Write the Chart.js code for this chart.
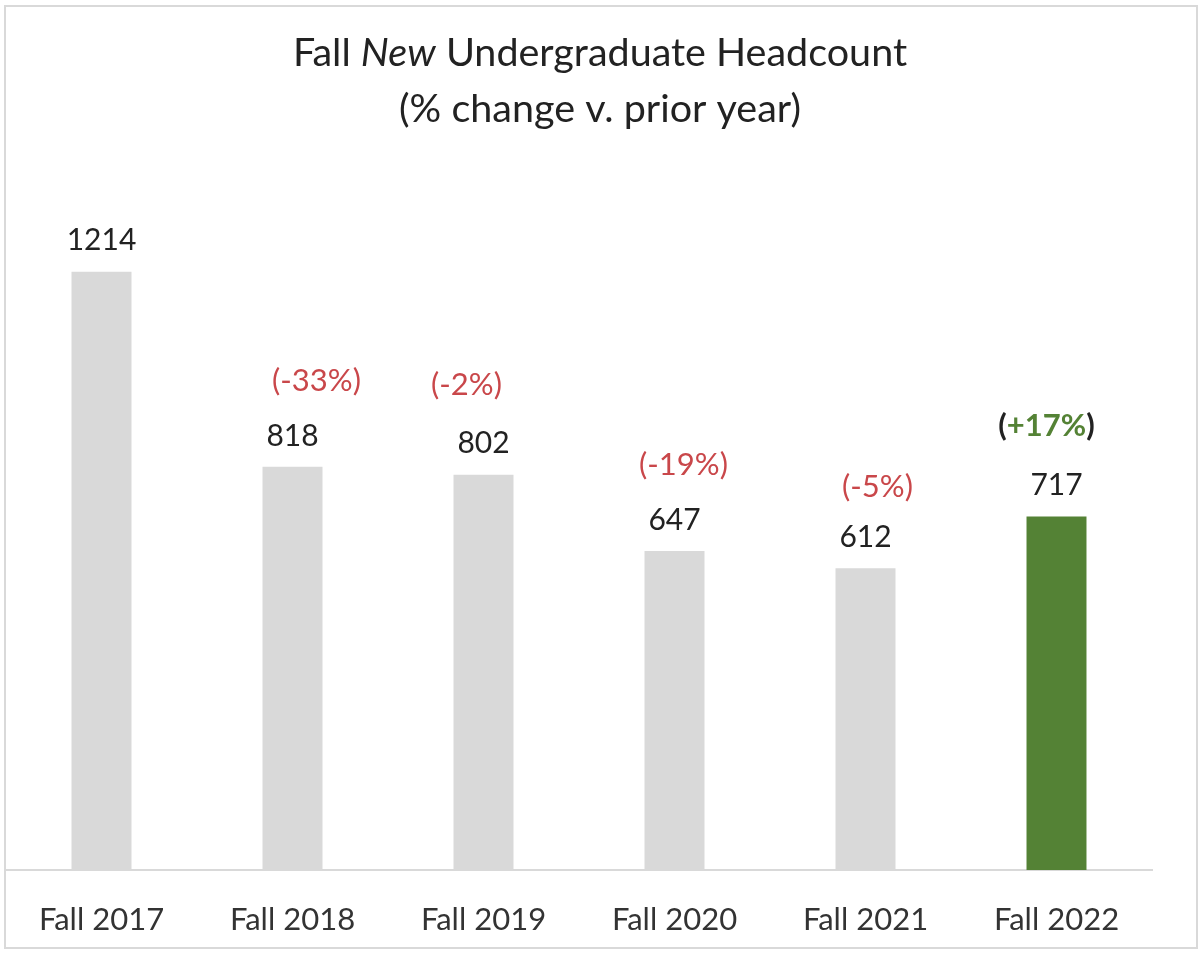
<!DOCTYPE html>
<html>
<head>
<meta charset="utf-8">
<script src="https://cdn.jsdelivr.net/npm/chart.js@4"></script>
<style>
html,body{margin:0;padding:0;background:#fff}
#wrap{position:relative;width:1200px;height:954px}
</style>
</head>
<body>
<div id="wrap"><canvas id="c" width="1200" height="954"></canvas></div>
<script>
/* ===== DATA ===== */
const years=['Fall 2017','Fall 2018','Fall 2019','Fall 2020','Fall 2021','Fall 2022'];
const headcount=[1214,818,802,647,612,717];
const pctChange=['','-33%','-2%','-19%','-5%','+17%'];

/* label nudges (px) - the original has them placed by hand */
const pctNudge=[[0,0],[24,0],[-17,-4],[9,0],[12,5],[-10,-5]];

const FONT='Lato, "Open Sans", sans-serif';
const GRAY='#d9d9d9',GREEN='#548235',RED='#c9474a';
const barColors=years.map((_,i)=>i===years.length-1?GREEN:GRAY);

// frame + two-line title with italic "New"
const titlePlugin={
  id:'titleFrame',
  beforeDraw(chart){
    const ctx=chart.ctx;
    ctx.save();
    ctx.strokeStyle='#d9d9d9';ctx.lineWidth=2;
    ctx.strokeRect(5,6,1192,942);
    ctx.fillStyle='#222';ctx.textBaseline='middle';
    const parts=[['Fall ','normal'],['New','italic'],[' Undergraduate Headcount','normal']];
    const f=st=>`${st} 39.5px ${FONT}`;
    let w=0;parts.forEach(p=>{ctx.font=f(p[1]);w+=ctx.measureText(p[0]).width;});
    let x=600-w/2;
    ctx.textAlign='left';
    parts.forEach(p=>{ctx.font=f(p[1]);ctx.fillText(p[0],x,53);x+=ctx.measureText(p[0]).width;});
    ctx.font=f('normal');ctx.textAlign='center';
    ctx.fillText('(% change v. prior year)',600,109);
    ctx.restore();
  }
};

// value labels + % change labels above each bar
const labelPlugin={
  id:'barLabels',
  afterDatasetsDraw(chart){
    const ctx=chart.ctx,meta=chart.getDatasetMeta(0);
    ctx.save();
    ctx.textBaseline='middle';ctx.textAlign='center';
    meta.data.forEach((bar,i)=>{
      ctx.font=`30px ${FONT}`;ctx.fillStyle='#222';
      const vy=bar.y-31;
      ctx.fillText(String(headcount[i]),bar.x,vy);
      const p=pctChange[i];
      if(!p)return;
      const px=bar.x+pctNudge[i][0],py=vy-55+pctNudge[i][1];
      if(p[0]==='+'){
        // green, bold, with dark brackets
        ctx.font=`bold 31px ${FONT}`;
        const segs=[['(','#222'],[p,GREEN],[')','#222']];
        let w=0;segs.forEach(s=>w+=ctx.measureText(s[0]).width);
        let x=px-w/2;ctx.textAlign='left';
        segs.forEach(s=>{ctx.fillStyle=s[1];ctx.fillText(s[0],x,py);x+=ctx.measureText(s[0]).width;});
        ctx.textAlign='center';
      }else{
        ctx.font=`31px ${FONT}`;ctx.fillStyle=RED;
        ctx.fillText('('+p+')',px,py);
      }
    });
    ctx.restore();
  }
};

new Chart(document.getElementById('c'),{
  type:'bar',
  data:{
    labels:years,
    datasets:[{data:headcount,backgroundColor:barColors,borderWidth:0,barPercentage:1,categoryPercentage:0.314}]
  },
  options:{
    responsive:false,animation:false,
    layout:{padding:{left:6,right:48,top:180,bottom:0}},
    plugins:{legend:{display:false},tooltip:{enabled:false},title:{display:false}},
    scales:{
      x:{
        grid:{display:false,drawTicks:false},
        border:{display:true,color:'#d9d9d9',width:2},
        ticks:{color:'#333',font:{family:FONT,size:31},padding:31},
        afterFit:s=>{s.height=84;}
      },
      y:{display:false,min:0,max:1400}
    }
  },
  plugins:[titlePlugin,labelPlugin]
});
</script>
</body>
</html>
